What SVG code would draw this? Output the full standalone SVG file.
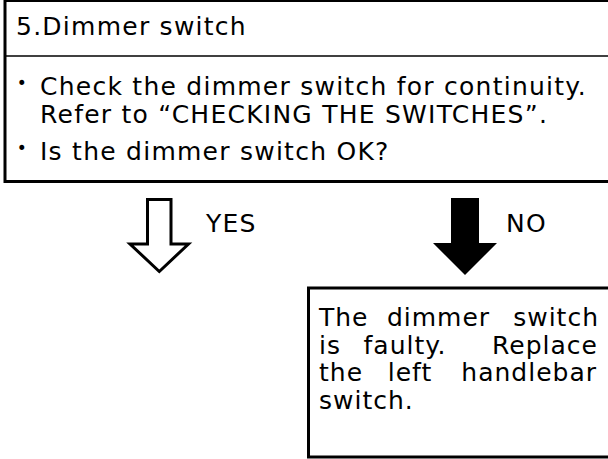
<svg xmlns="http://www.w3.org/2000/svg" width="608" height="459" viewBox="0 0 608 459">
<style>
text{font-family:"DejaVu Sans","Liberation Sans",sans-serif;font-size:25px;letter-spacing:1.25px;fill:#000}
.box{fill:#fff;stroke:#000;stroke-width:3}
.bul{font-size:17px;letter-spacing:0}
.e{text-anchor:end}
.m{text-anchor:middle}
.f text{letter-spacing:1px}
</style>
<rect width="608" height="459" fill="#fff"/>
<g id="step5">
<rect class="box" x="5" y="0.5" width="620" height="181"/>
<line x1="5" y1="56" x2="608" y2="56" stroke="#000" stroke-width="1.5"/>
<text x="16" y="35">5.Dimmer switch</text>
<text class="bul m" x="21.7" y="88.5">•</text>
<text x="40" y="95">Check the dimmer switch for continuity.</text>
<text x="40" y="122.5">Refer to “CHECKING THE SWITCHES”.</text>
<text class="bul m" x="21.7" y="153.5">•</text>
<text x="40" y="160">Is the dimmer switch OK?</text>
</g>
<g id="connectors">
<g id="yes">
<polygon points="147.5,199.5 171,199.5 171,244 188.5,244 159.3,271.5 130,244 147.5,244" fill="#fff" stroke="#000" stroke-width="3" stroke-linejoin="miter"/>
<text x="206" y="232">YES</text>
</g>
<g id="no">
<polygon points="451,198 479,198 479,243 497,243 465,275 433,243 451,243" fill="#000"/>
<text x="506" y="232">NO</text>
</g>
</g>
<g id="faulty" class="f">
<rect class="box" x="308.5" y="288" width="320" height="169"/>
<text x="319" y="326">The</text><text class="m" x="438.5" y="326">dimmer</text><text class="e" x="599" y="326">switch</text>
<text x="319" y="353.5">is</text><text class="m" x="405" y="353.5">faulty.</text><text class="e" x="598" y="353.5">Replace</text>
<text x="319" y="381">the</text><text class="m" x="410" y="381">left</text><text class="e" x="597" y="381">handlebar</text>
<text x="319" y="408.5">switch.</text>
</g>
</svg>
